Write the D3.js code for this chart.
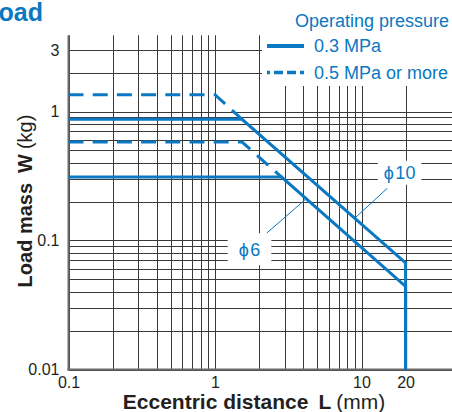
<!DOCTYPE html>
<html>
<head>
<meta charset="utf-8">
<script src="https://cdn.jsdelivr.net/npm/d3@7"></script>
<style>
  body { margin: 0; background: #fff; }
  svg { display: block; font-family: "Liberation Sans", Arial, Helvetica, sans-serif; }
</style>
</head>
<body>
<div id="chart"></div>
<script>
// Axis ticks and grid
const xTickValues = [0.1, 1, 10, 20];
const xTickLabels = ['0.1', '1', '10', '20'];
const yTickValues = [0.01, 0.1, 1, 3];
const yTickLabels = ['0.01', '0.1', '1', '3'];
const xGrid = [0.1, 0.2, 0.3, 0.4, 0.5, 0.6, 0.7, 0.8, 0.9, 1, 2, 3, 4, 5, 6, 7, 8, 9, 10, 20];
const yGrid = [0.01, 0.02, 0.03, 0.04, 0.05, 0.06, 0.07, 0.08, 0.09,
               0.1, 0.2, 0.3, 0.4, 0.5, 0.6, 0.7, 0.8, 0.9, 1, 2, 3];

// Series: [eccentric distance L (mm), load mass W (kg)]
const phi10_03 = [[0.1, 0.87], [1.53, 0.87], [20, 0.067], [20, 0.01]];
const phi10_05 = [[0.1, 1.35], [1.0, 1.35], [1.53, 0.87]];
const phi6_03 = [[0.1, 0.31], [2.85, 0.31], [20, 0.044], [20, 0.01]];
const phi6_05 = [[0.1, 0.58], [1.53, 0.58], [2.85, 0.31]];

// Bore labels: label position, leader start, leader end (data coords)
const boreLabels = [
  { text: '\u03d5\u200a10', at: [18.2, 0.335], from: [15.0, 0.254], to: [9.0, 0.149], padX: 6, padY: 12 },
  { text: '\u03d5\u200a6', at: [1.72, 0.0855], from: [2.25, 0.114], to: [4.18, 0.21], padX: 11, padY: 16 }
];

const legendItems = [
  { label: '0.3 MPa', dashed: false },
  { label: '0.5 MPa or more', dashed: true }
];

const blue = '#0a78c2';
const ink = '#231f20';
const gridColor = '#3b3838';

const W = 452, H = 412;
const svg = d3.select('#chart').append('svg')
  .attr('width', W)
  .attr('height', H);

// Scales
const x = d3.scaleLog().domain([0.1, 42]).range([68.5, 68.5 + 146.5 * Math.log10(420)]);
const y = d3.scaleLog().domain([0.01, 3.9]).range([369.5, 369.5 - 129 * Math.log10(390)]);

const x0 = x(0.1), x1 = W;
const y0 = y(0.01), yTop = y(3.9);

// Grid
const grid = svg.append('g').attr('stroke', gridColor).attr('stroke-width', 1);
grid.selectAll('.hg').data(yGrid).enter().append('line')
  .attr('x1', x0).attr('x2', x1)
  .attr('y1', d => Math.round(y(d)) + 0.5).attr('y2', d => Math.round(y(d)) + 0.5);
grid.selectAll('.vg').data(xGrid).enter().append('line')
  .attr('x1', d => Math.round(x(d)) + 0.5).attr('x2', d => Math.round(x(d)) + 0.5)
  .attr('y1', yTop).attr('y2', y0);

// Axis lines (left and bottom)
svg.append('line')
  .attr('x1', x0).attr('x2', x0).attr('y1', yTop).attr('y2', y0 + 1)
  .attr('stroke', '#6d6a6a').attr('stroke-width', 2);
svg.append('line')
  .attr('x1', x0 - 1).attr('x2', x1).attr('y1', y0).attr('y2', y0)
  .attr('stroke', '#6d6a6a').attr('stroke-width', 2);

// Legend background
svg.append('rect')
  .attr('x', 262).attr('y', 28).attr('width', W - 262).attr('height', 58)
  .attr('fill', '#fff');

// Series
const line = d3.line().x(d => x(d[0])).y(d => y(d[1]));
const series = [
  { data: phi10_05, dashed: true },
  { data: phi6_05, dashed: true },
  { data: phi10_03, dashed: false },
  { data: phi6_03, dashed: false }
];
svg.append('g').selectAll('path').data(series).enter().append('path')
  .attr('d', d => line(d.data))
  .attr('fill', 'none')
  .attr('stroke', blue)
  .attr('stroke-width', 3)
  .attr('stroke-linejoin', 'miter')
  .attr('stroke-dasharray', d => d.dashed ? '15,9.2' : null);

// Bore labels with white boxes and leader lines
const lab = svg.append('g').selectAll('g').data(boreLabels).enter().append('g');
lab.append('line')
  .attr('x1', d => x(d.from[0])).attr('y1', d => y(d.from[1]))
  .attr('x2', d => x(d.to[0])).attr('y2', d => y(d.to[1]))
  .attr('stroke', blue).attr('stroke-width', 1);
const labText = lab.append('text')
  .attr('x', d => x(d.at[0])).attr('y', d => y(d.at[1]))
  .attr('dy', '0.36em')
  .attr('text-anchor', 'middle')
  .attr('font-size', 18)
  .attr('fill', blue)
  .text(d => d.text);
labText.each(function(d) {
  const b = this.getBBox();
  d3.select(this.parentNode).insert('rect', 'text')
    .attr('x', b.x - d.padX).attr('y', y(d.at[1]) - d.padY)
    .attr('width', b.width + 2 * d.padX).attr('height', 2 * d.padY)
    .attr('fill', '#fff');
});

// Tick labels via axes
const yAxis = svg.append('g')
  .attr('transform', `translate(${x0},0)`)
  .call(d3.axisLeft(y).tickValues(yTickValues).tickFormat((d, i) => yTickLabels[i]).tickSize(0).tickPadding(9));
yAxis.select('.domain').remove();
yAxis.selectAll('text').attr('font-size', 16).attr('fill', ink).attr('font-family', null);

const xAxis = svg.append('g')
  .attr('transform', `translate(0,${y0})`)
  .call(d3.axisBottom(x).tickValues(xTickValues).tickFormat((d, i) => xTickLabels[i]).tickSize(0).tickPadding(7));
xAxis.select('.domain').remove();
xAxis.selectAll('text').attr('font-size', 16).attr('fill', ink).attr('font-family', null);

// Axis titles
const xTitle = svg.append('text')
  .attr('x', 254).attr('y', 409)
  .attr('text-anchor', 'middle')
  .attr('font-size', 21)
  .attr('fill', ink);
xTitle.append('tspan').attr('font-weight', 'bold').text('Eccentric distance');
xTitle.append('tspan').attr('font-weight', 'bold').attr('dx', 10).text('L');
xTitle.append('tspan').attr('dx', 5).text('(mm)');

const yTitle = svg.append('text')
  .attr('transform', 'translate(32,201) rotate(-90)')
  .attr('text-anchor', 'middle')
  .attr('font-size', 20)
  .attr('fill', ink);
yTitle.append('tspan').attr('font-weight', 'bold').text('Load mass');
yTitle.append('tspan').attr('font-weight', 'bold').attr('dx', 10).text('W');
yTitle.append('tspan').attr('dx', 5).text('(kg)');

// Legend
svg.append('text')
  .attr('x', 449).attr('y', 27)
  .attr('text-anchor', 'end')
  .attr('font-size', 18)
  .attr('fill', blue)
  .text('Operating pressure');

const leg = svg.append('g').selectAll('g').data(legendItems).enter().append('g')
  .attr('transform', (d, i) => `translate(0,${46 + i * 26.5})`);
leg.append('line')
  .attr('x1', 267).attr('x2', 304).attr('y1', 0).attr('y2', 0)
  .attr('stroke', blue)
  .attr('stroke-width', d => d.dashed ? 3.5 : 4)
  .attr('stroke-dasharray', d => d.dashed ? '9,4' : null)
  .attr('stroke-dashoffset', d => d.dashed ? 6 : null);
leg.append('text')
  .attr('x', 314).attr('y', 0)
  .attr('dy', '0.36em')
  .attr('font-size', 18)
  .attr('fill', blue)
  .text(d => d.label);

// Cropped section title
svg.append('text')
  .attr('x', 43).attr('y', 21)
  .attr('text-anchor', 'end')
  .attr('font-size', 25)
  .attr('font-weight', 'bold')
  .attr('fill', blue)
  .text('Load');
</script>
</body>
</html>
